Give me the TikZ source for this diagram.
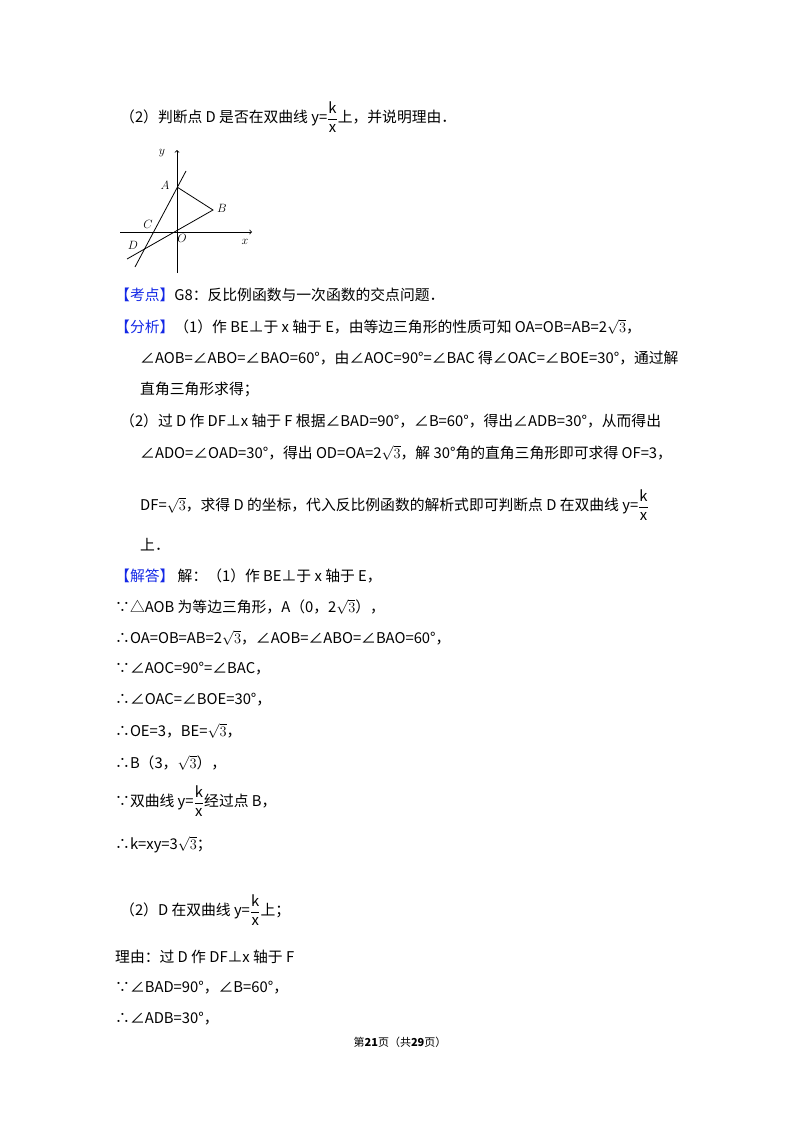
\documentclass[tikz,border=0pt]{standalone}
\usepackage{fontspec}
\setmainfont{Noto Sans CJK SC}
\begin{document}
\begin{tikzpicture}[x=1pt,y=-1pt,
  tl/.style={anchor=west,inner sep=0pt,font=\fontsize{14.8}{16}\selectfont},
  lab/.style={inner sep=0pt,font=\fontsize{13}{14}\selectfont},
  ln/.style={line width=0.8pt}]
\useasboundingbox[fill=white] (0,0) rectangle (800,1132);
\newcommand\kx{$\displaystyle\frac{\mathrm{k}}{\mathrm{x}}$}
\newcommand\st{$\sqrt{3}$}
\definecolor{kb}{RGB}{20,40,230}
% figure
\coordinate (O) at (177,232);
\coordinate (A) at (177,187);
\coordinate (B) at (213,210);
\coordinate (D) at (141,253);
\coordinate (xs) at (120,232); \coordinate (xe) at (252,232);
\coordinate (ys) at (177,273); \coordinate (ye) at (177,150);
\coordinate (l1a) at (186,171); \coordinate (l1b) at (135,267);
\coordinate (l2a) at (127,259);
\draw[ln,->] (xs) -- (xe);
\draw[ln,->] (ys) -- (ye);
\draw[ln] (l1a) -- (l1b);
\draw[ln] (l2a) -- (B) -- (A);
\node[lab] (ly) at (162,153) {$y$};
\node[lab] (lA) at (165,185) {$A$};
\node[lab] (lB) at (222,208) {$B$};
\node[lab] (lC) at (148,224) {$C$};
\node[lab] (lO) at (182,238) {$O$};
\node[lab] (lD) at (133,245) {$D$};
\node[lab] (lx) at (245,242) {$x$};
% text
\node[tl] (t1) at (120,117) {（2）判断点 D 是否在双曲线 y=\kx 上，并说明理由．};
\node[tl] (t2) at (115,295) {\textcolor{kb}{【考点】}G8：反比例函数与一次函数的交点问题．};
\node[tl] (t3) at (115,327) {\textcolor{kb}{【分析】}（1）作 BE⊥于 x 轴于 E，由等边三角形的性质可知 OA=OB=AB=2\st，};
\node[tl] (t4) at (140,358) {∠AOB=∠ABO=∠BAO=60°，由∠AOC=90°=∠BAC 得∠OAC=∠BOE=30°，通过解};
\node[tl] (t5) at (140,389) {直角三角形求得；};
\node[tl] (t6) at (120,421) {（2）过 D 作 DF⊥x 轴于 F 根据∠BAD=90°，∠B=60°，得出∠ADB=30°，从而得出};
\node[tl] (t7) at (140,453) {∠ADO=∠OAD=30°，得出 OD=OA=2\st，解 30°角的直角三角形即可求得 OF=3，};
\node[tl] (t8) at (140,505) {DF=\st，求得 D 的坐标，代入反比例函数的解析式即可判断点 D 在双曲线 y=\kx};
\node[tl] (t9) at (140,545) {上．};
\node[tl] (t10) at (115,576) {\textcolor{kb}{【解答】} 解：（1）作 BE⊥于 x 轴于 E，};
\node[tl] (t11) at (115,607) {∵△AOB 为等边三角形，A（0，2\st），};
\node[tl] (t12) at (115,638) {∴OA=OB=AB=2\st，∠AOB=∠ABO=∠BAO=60°，};
\node[tl] (t13) at (115,669) {∵∠AOC=90°=∠BAC，};
\node[tl] (t14) at (115,700) {∴∠OAC=∠BOE=30°，};
\node[tl] (t15) at (115,731) {∴OE=3，BE=\st，};
\node[tl] (t16) at (115,763) {∴B（3，\st），};
\node[tl] (t17) at (115,801) {∵双曲线 y=\kx 经过点 B，};
\node[tl] (t18) at (115,845) {∴k=xy=3\st；};
\node[tl] (t19) at (120,910) {（2）D 在双曲线 y=\kx 上；};
\node[tl] (t20) at (115,957) {理由：过 D 作 DF⊥x 轴于 F};
\node[tl] (t21) at (115,988) {∵∠BAD=90°，∠B=60°，};
\node[tl] (t22) at (115,1019) {∴∠ADB=30°，};
\node[inner sep=0pt,font=\fontsize{11}{12}\selectfont] (ft) at (400,1042) {第\textbf{21}页（共\textbf{29}页）};
\end{tikzpicture}
\end{document}
